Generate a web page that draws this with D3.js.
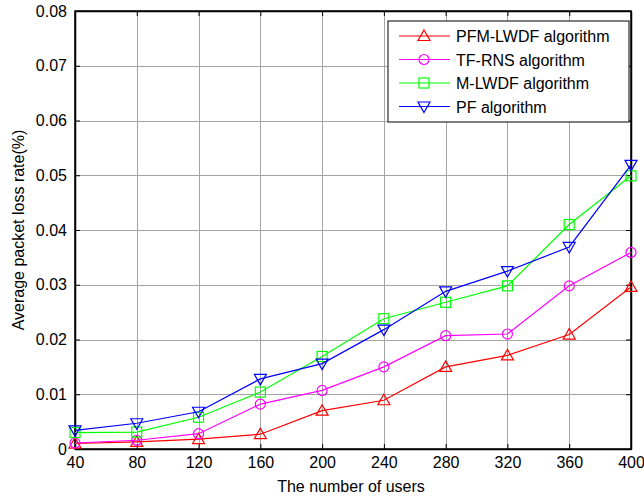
<!DOCTYPE html>
<html>
<head>
<meta charset="utf-8">
<script src="https://cdn.jsdelivr.net/npm/d3@7"></script>
<style>
  body { margin: 0; background: #fff; }
  text { font-family: Arial, "Liberation Sans", sans-serif; fill: #000; }
</style>
</head>
<body>
<svg id="chart" width="644" height="497"></svg>
<script>
// users on the x axis
var users = [40, 80, 120, 160, 200, 240, 280, 320, 360, 400];

// loss rate per algorithm
var pfmLwdf = [0.0010, 0.0013, 0.0018, 0.0027, 0.0070, 0.0089, 0.0150, 0.0171, 0.0209, 0.0296];
var tfRns   = [0.0011, 0.0016, 0.0028, 0.0082, 0.0107, 0.0150, 0.0207, 0.0210, 0.0298, 0.0359];
var mLwdf   = [0.0030, 0.0031, 0.0058, 0.0104, 0.0169, 0.0238, 0.0268, 0.0298, 0.0410, 0.0499];
var pf      = [0.0034, 0.0047, 0.0068, 0.0128, 0.0156, 0.0218, 0.0288, 0.0325, 0.0369, 0.0519];

var seriesNames = ["PFM-LWDF algorithm", "TF-RNS algorithm", "M-LWDF algorithm", "PF algorithm"];
var yTicks = [0, 0.01, 0.02, 0.03, 0.04, 0.05, 0.06, 0.07, 0.08];

var series = [
  {name: seriesNames[0], values: pfmLwdf, color: "#ff0000", marker: "up"},
  {name: seriesNames[1], values: tfRns,   color: "#ff00ff", marker: "circle"},
  {name: seriesNames[2], values: mLwdf,   color: "#00ff00", marker: "square"},
  {name: seriesNames[3], values: pf,      color: "#0000ff", marker: "down"}
];

// plot box (note: "top" clashes with window.top, hence the prefix)
var pL = 75, pR = 631, pT = 11, pB = 449;

var x = d3.scaleLinear().domain([40, 400]).range([pL, pR]);
var y = d3.scaleLinear().domain([0, 0.08]).range([pB, pT]);

var svg = d3.select("#chart");
svg.append("rect").attr("width", 644).attr("height", 497).attr("fill", "#fff");

// grid
var grid = svg.append("g").attr("stroke", "#a4a4a4").attr("stroke-width", 1);
grid.selectAll("line.v").data(users.slice(1, -1)).enter().append("line")
  .attr("x1", function(d) { return Math.round(x(d)) + 0.5; })
  .attr("x2", function(d) { return Math.round(x(d)) + 0.5; })
  .attr("y1", pT).attr("y2", pB);
grid.selectAll("line.h").data(yTicks.slice(1, -1)).enter().append("line")
  .attr("y1", function(d) { return Math.round(y(d)) + 0.5; })
  .attr("y2", function(d) { return Math.round(y(d)) + 0.5; })
  .attr("x1", pL).attr("x2", pR);

// axes, ticks inside on all four sides
var xAxis = d3.axisBottom(x).tickValues(users).tickSizeInner(-5).tickSizeOuter(0).tickPadding(8).tickFormat(d3.format("d"));
var yAxis = d3.axisLeft(y).tickValues(yTicks).tickSizeInner(-5).tickSizeOuter(0).tickPadding(8)
  .tickFormat(function(d) { return d === 0 ? "0" : d3.format(".2f")(d); });

var gx = svg.append("g").attr("transform", "translate(0," + pB + ")").call(xAxis);
var gy = svg.append("g").attr("transform", "translate(" + pL + ",0)").call(yAxis);
svg.append("g").attr("transform", "translate(0," + pT + ")")
  .call(d3.axisTop(x).tickValues(users).tickSizeInner(-5).tickSizeOuter(0).tickFormat(""));
svg.append("g").attr("transform", "translate(" + pR + ",0)")
  .call(d3.axisRight(y).tickValues(yTicks).tickSizeInner(-5).tickSizeOuter(0).tickFormat(""));

svg.selectAll(".domain").attr("stroke", "#000").attr("stroke-width", 1.5);
svg.selectAll(".tick line").attr("stroke", "#000");
svg.selectAll(".tick text").style("font-size", "16px").attr("fill", "#000");

svg.append("rect").attr("x", pL).attr("y", pT).attr("width", pR - pL).attr("height", pB - pT)
  .attr("fill", "none").attr("stroke", "#000").attr("stroke-width", 1.5);

// axis titles
svg.append("text").attr("x", 351).attr("y", 492).attr("text-anchor", "middle")
  .style("font-size", "16px").text("The number of users");
svg.append("text").attr("transform", "translate(24,230) rotate(-90)").attr("text-anchor", "middle")
  .style("font-size", "16px").text("Average packet loss rate(%)");

function drawMarker(g, type, color) {
  if (type === "circle") {
    g.append("circle").attr("r", 5).attr("fill", "none").attr("stroke", color).attr("stroke-width", 1.2);
  } else if (type === "square") {
    g.append("rect").attr("x", -5).attr("y", -5).attr("width", 10).attr("height", 10)
      .attr("fill", "none").attr("stroke", color).attr("stroke-width", 1.2);
  } else if (type === "up") {
    g.append("path").attr("d", "M0,-6L6,4.5L-6,4.5Z").attr("fill", "none").attr("stroke", color).attr("stroke-width", 1.2);
  } else {
    g.append("path").attr("d", "M0,6L6,-4.5L-6,-4.5Z").attr("fill", "none").attr("stroke", color).attr("stroke-width", 1.2);
  }
}

var line = d3.line().x(function(d, i) { return x(users[i]); }).y(function(d) { return y(d); });

series.forEach(function(s) {
  svg.append("path").datum(s.values).attr("d", line)
    .attr("fill", "none").attr("stroke", s.color).attr("stroke-width", 1.2);
  s.values.forEach(function(v, i) {
    var g = svg.append("g").attr("transform", "translate(" + x(users[i]) + "," + y(v) + ")");
    drawMarker(g, s.marker, s.color);
  });
});

// legend
var lg = svg.append("g").attr("transform", "translate(388,21)");
lg.append("rect").attr("width", 241).attr("height", 101).attr("fill", "#fff").attr("stroke", "#000").attr("stroke-width", 1);
series.forEach(function(s, i) {
  var row = lg.append("g").attr("transform", "translate(0," + (15 + i * 23.5) + ")");
  row.append("line").attr("x1", 11).attr("x2", 62).attr("stroke", s.color).attr("stroke-width", 1.2);
  var m = row.append("g").attr("transform", "translate(36,0)");
  drawMarker(m, s.marker, s.color);
  row.append("text").attr("x", 68).attr("y", 6).style("font-size", "16px").text(s.name);
});
</script>
</body>
</html>
